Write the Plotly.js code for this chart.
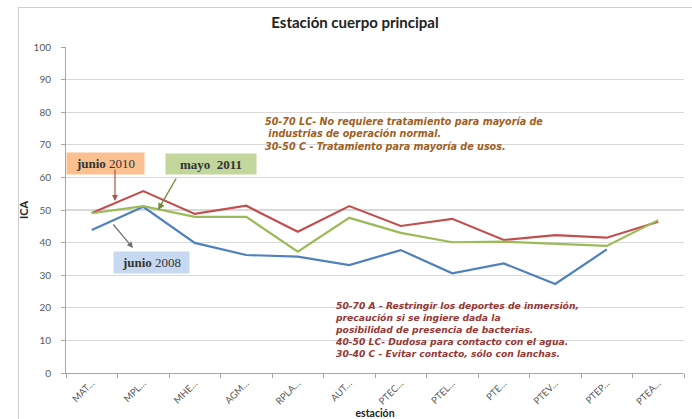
<!DOCTYPE html>
<html>
<head>
<meta charset="utf-8">
<script src="https://cdn.plot.ly/plotly-3.0.1.min.js"></script>
<style>
  html, body { margin: 0; padding: 0; background: #ffffff; }
  #wrap { position: relative; width: 692px; height: 419px; overflow: hidden; }
  #frame { position: absolute; left: 18px; top: 7px; width: 700px; height: 430px; border: 1px solid #d0d0d0; box-sizing: border-box; pointer-events: none; }
  #chart { position: absolute; left: 0; top: 0; width: 692px; height: 419px; }
</style>
</head>
<body>
<div id="wrap">
  <div id="chart"></div>
  <div id="frame"></div>
</div>
<script>
// ---- data ----
var estaciones = ["MAT…", "MPL…", "MHE…", "AGM…", "RPLA…", "AUT…", "PTEC…", "PTEL…", "PTE…", "PTEV…", "PTEP…", "PTEA…"];
var junio2008 = [43.9, 51.0, 39.9, 36.2, 35.7, 33.1, 37.7, 30.6, 33.6, 27.3, 37.9, null];
var junio2010 = [49.1, 55.8, 48.8, 51.3, 43.3, 51.2, 45.1, 47.3, 40.8, 42.3, 41.5, 46.4];
var mayo2011  = [49.0, 51.2, 47.9, 47.9, 37.2, 47.6, 43.0, 40.1, 40.3, 39.6, 39.0, 46.9];
var yTicks = [0, 10, 20, 30, 40, 50, 60, 70, 80, 90, 100];

var FONT = "Lato, 'Open Sans', sans-serif";

var traces = [
  { name: "junio 2008", x: estaciones, y: junio2008, type: "scatter", mode: "lines",
    line: { color: "#4F81BD", width: 2.2 } },
  { name: "junio 2010", x: estaciones, y: junio2010, type: "scatter", mode: "lines",
    line: { color: "#C0504D", width: 2.2 } },
  { name: "mayo 2011", x: estaciones, y: mayo2011, type: "scatter", mode: "lines",
    line: { color: "#9BBB59", width: 2.2 } }
];

// pixel helpers relative to plot area (left 66, right 684, top 47, bottom 373)
function px(x) { return (x - 66) / 618; }
function py(y) { return (373 - y) / 326; }

var annFamily = "'DejaVu Sans', sans-serif";
var boxFont = { family: "'Liberation Serif', serif", size: 13, color: "#333333" };

var annotations = [
  { xref: "paper", yref: "paper", x: px(263), y: py(114), xanchor: "left", yanchor: "top", align: "left", showarrow: false,
    text: "<b><i>50-70 LC- No requiere tratamiento para mayoría de<br> industrias de operación normal.<br>30-50 C - Tratamiento para mayoría de usos.</i></b>",
    font: { family: annFamily, size: 9.6, color: "#A0601E" } },
  { xref: "paper", yref: "paper", x: px(333), y: py(298), xanchor: "left", yanchor: "top", align: "left", showarrow: false,
    text: "<b><i>50-70 A - Restringir los deportes de inmersión,<br>precaución si se ingiere dada la<br>posibilidad de presencia de bacterias.<br>40-50 LC- Dudosa para contacto con el agua.<br>30-40 C - Evitar contacto, sólo con lanchas.</i></b>",
    font: { family: annFamily, size: 9.2, color: "#953735" } },
  // label boxes
  { xref: "paper", yref: "paper", x: px(105.5), y: py(163.5), xanchor: "center", yanchor: "middle", showarrow: false,
    width: 75, height: 19, bgcolor: "#FAC090", text: "<b>junio</b> 2010", font: boxFont },
  { xref: "paper", yref: "paper", x: px(211), y: py(164), xanchor: "center", yanchor: "middle", showarrow: false,
    width: 88, height: 18, bgcolor: "#C3D69B", text: "<b>mayo  2011</b>", font: boxFont },
  { xref: "paper", yref: "paper", x: px(151.5), y: py(262.5), xanchor: "center", yanchor: "middle", showarrow: false,
    width: 73, height: 19, bgcolor: "#C6D9F1", text: "<b>junio</b> 2008", font: boxFont },
  // arrows
  { xref: "paper", yref: "paper", x: px(115), y: py(201), ax: 0, ay: -33, text: "", showarrow: true,
    arrowhead: 2, arrowsize: 1, arrowwidth: 1.2, arrowcolor: "#B0504D" },
  { xref: "paper", yref: "paper", x: px(158), y: py(210), ax: 19, ay: -33, text: "", showarrow: true,
    arrowhead: 2, arrowsize: 1, arrowwidth: 1.4, arrowcolor: "#6F8F3A" },
  { xref: "paper", yref: "paper", x: px(133), y: py(248), ax: -21, ay: -25, text: "", showarrow: true,
    arrowhead: 2, arrowsize: 1, arrowwidth: 1.2, arrowcolor: "#6F6F6F" }
];

var layout = {
  width: 692, height: 419,
  margin: { l: 66, r: 8, t: 47, b: 46 },
  paper_bgcolor: "#ffffff", plot_bgcolor: "#ffffff",
  showlegend: false,
  font: { family: FONT, color: "#595959" },
  title: { text: "<b>Estación cuerpo principal</b>", x: 355 / 692, xanchor: "center", xref: "container",
    y: 1 - 23 / 419, yanchor: "middle", yref: "container",
    font: { family: FONT, size: 15, color: "#222222" } },
  xaxis: {
    type: "category", range: [-0.5, 11.5], tickson: "boundaries",
    ticks: "outside", ticklen: 4, tickcolor: "#a6a6a6",
    showline: true, linecolor: "#a6a6a6", linewidth: 1,
    showgrid: false, zeroline: false, tickangle: -45,
    tickfont: { family: FONT, size: 9.5, color: "#595959" },
    title: { text: "<b>estación</b>", standoff: 2, font: { family: FONT, size: 10.5, color: "#222222" } }
  },
  yaxis: {
    range: [0, 100], tickvals: yTicks, ticktext: yTicks.map(String),
    ticks: "outside", ticklen: 4, tickcolor: "#a6a6a6", ticklabelstandoff: 8,
    showline: true, linecolor: "#a6a6a6", linewidth: 1,
    showgrid: true, gridcolor: "#d9d9d9", gridwidth: 1.2, zeroline: false,
    tickfont: { family: FONT, size: 10, color: "#595959" },
    title: { text: "<b>ICA</b>", standoff: 2, font: { family: FONT, size: 11, color: "#222222" } }
  },
  annotations: annotations
};

Plotly.newPlot("chart", traces, layout, { displayModeBar: false, staticPlot: true });
</script>
</body>
</html>
